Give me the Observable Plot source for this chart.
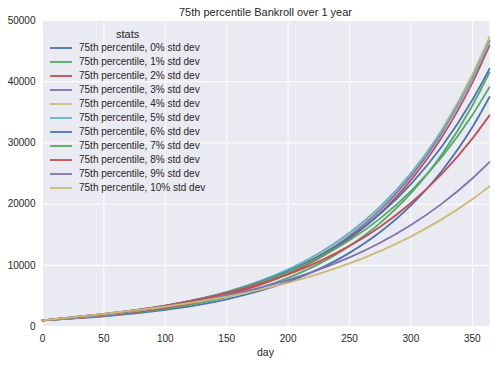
<!DOCTYPE html>
<html>
<head>
<meta charset="utf-8">
<script src="https://cdn.jsdelivr.net/npm/d3@7"></script>
<script src="https://cdn.jsdelivr.net/npm/@observablehq/plot@0.6"></script>
<style>
  html, body { margin: 0; padding: 0; background: #ffffff; }
  body { font-family: "Liberation Sans", Arial, sans-serif; color: #262626; }
  #wrap { position: relative; width: 495px; height: 365px; overflow: hidden; }
  #title { position: absolute; left: 42px; top: 0; width: 447px; height: 24px; line-height: 24px; text-align: center; font-size: 11px; }
  #chart { position: absolute; left: 0; top: 14px; }
  #xlabel { position: absolute; left: 42px; width: 447px; top: 345px; line-height: 14px; text-align: center; font-size: 10.5px; }
  #legend { position: absolute; left: 50px; top: 27px; display: inline-block; font-size: 10px; }
  #legend .ltitle { text-align: center; font-size: 11px; line-height: 14px; height: 14px; }
  #legend .row { display: flex; align-items: center; height: 14.06px; line-height: 14px; white-space: nowrap; }
  #legend svg { display: block; margin-right: 7px; }
</style>
</head>
<body>
<div id="wrap">
  <div id="title">75th percentile Bankroll over 1 year</div>
  <div id="chart"></div>
  <div id="xlabel">day</div>
  <div id="legend"></div>
</div>
<script>
// ---- data ----
const days = [0, 50, 100, 150, 200, 225, 250, 275, 300, 325, 350, 364];
const series = [
  "75th percentile, 0% std dev",
  "75th percentile, 1% std dev",
  "75th percentile, 2% std dev",
  "75th percentile, 3% std dev",
  "75th percentile, 4% std dev",
  "75th percentile, 5% std dev",
  "75th percentile, 6% std dev",
  "75th percentile, 7% std dev",
  "75th percentile, 8% std dev",
  "75th percentile, 9% std dev",
  "75th percentile, 10% std dev"
];
const colors = ["#4C72B0", "#55A868", "#C44E52", "#8172B2", "#CCB974", "#64B5CD",
                "#4C72B0", "#55A868", "#C44E52", "#8172B2", "#CCB974"];
const pct0  = [1000, 1645, 2705, 4448, 7316, 9382, 12032, 15430, 19788, 25376, 32544, 37500];
const pct1  = [1000, 1720, 2875, 4783, 7941, 10226, 13165, 16942, 21799, 28043, 36069, 41510];
const pct2  = [1000, 1797, 3051, 5133, 8599, 11116, 14359, 18539, 23928, 30867, 39805, 45895];
const pct3  = [1000, 1856, 3165, 5326, 8900, 11483, 14802, 19065, 24539, 31568, 40586, 46710];
const pct4  = [1000, 1915, 3280, 5513, 9183, 11822, 15202, 19525, 25057, 32124, 41165, 47283];
const pct5  = [1000, 1969, 3371, 5641, 9329, 11960, 15310, 19573, 24990, 31877, 40625, 46523];
const pct6  = [1000, 2002, 3387, 5576, 9053, 11491, 14561, 18420, 23271, 29363, 37006, 42113];
const pct7  = [1000, 2042, 3427, 5571, 8909, 11218, 14094, 17675, 22131, 27665, 34545, 39108];
const pct8  = [1000, 2068, 3419, 5450, 8523, 10608, 13169, 16316, 20174, 24904, 30699, 34500];
const pct9  = [1000, 2059, 3296, 5061, 7612, 9283, 11290, 13697, 16583, 20039, 24180, 26846];
const pct10 = [1000, 2076, 3257, 4883, 7148, 8597, 10307, 12324, 14701, 17502, 20796, 22895];
const xTicks = [0, 50, 100, 150, 200, 250, 300, 350];
const yTicks = [0, 10000, 20000, 30000, 40000, 50000];

const values = [pct0, pct1, pct2, pct3, pct4, pct5, pct6, pct7, pct8, pct9, pct10];
const rows = series.flatMap((s, i) => days.map((d, j) => ({day: d, value: values[i][j], stat: s})));

const chart = Plot.plot({
  width: 495,
  height: 351,
  marginLeft: 42,
  marginRight: 6,
  marginTop: 6,
  marginBottom: 39,
  style: {background: "transparent", fontFamily: "'Liberation Sans', Arial, sans-serif", fontSize: "10px", color: "#262626", overflow: "visible"},
  x: {domain: [0, 364]},
  y: {domain: [0, 50000]},
  color: {domain: series, range: colors},
  marks: [
    Plot.frame({fill: "#EAEAF2", stroke: null}),
    Plot.gridX(xTicks, {stroke: "#ffffff", strokeOpacity: 1, strokeWidth: 1}),
    Plot.gridY(yTicks, {stroke: "#ffffff", strokeOpacity: 1, strokeWidth: 1}),
    Plot.axisX(xTicks, {tickSize: 0, tickPadding: 8, label: null, fill: "#262626"}),
    Plot.axisY(yTicks, {tickSize: 0, tickPadding: 7, label: null, tickFormat: d3.format("d"), fill: "#262626"}),
    Plot.line(rows, {x: "day", y: "value", z: "stat", stroke: "stat", strokeWidth: 1.8, curve: "monotone-x"})
  ]
});
document.getElementById("chart").appendChild(chart);

// legend
const legend = d3.select("#legend");
legend.append("div").attr("class", "ltitle").text("stats");
series.forEach((s, i) => {
  const row = legend.append("div").attr("class", "row");
  const sv = row.append("svg").attr("width", 22).attr("height", 14);
  sv.append("line").attr("x1", 0).attr("x2", 22).attr("y1", 7).attr("y2", 7)
    .attr("stroke", colors[i]).attr("stroke-width", 1.8);
  row.append("span").text(s);
});
</script>
</body>
</html>
